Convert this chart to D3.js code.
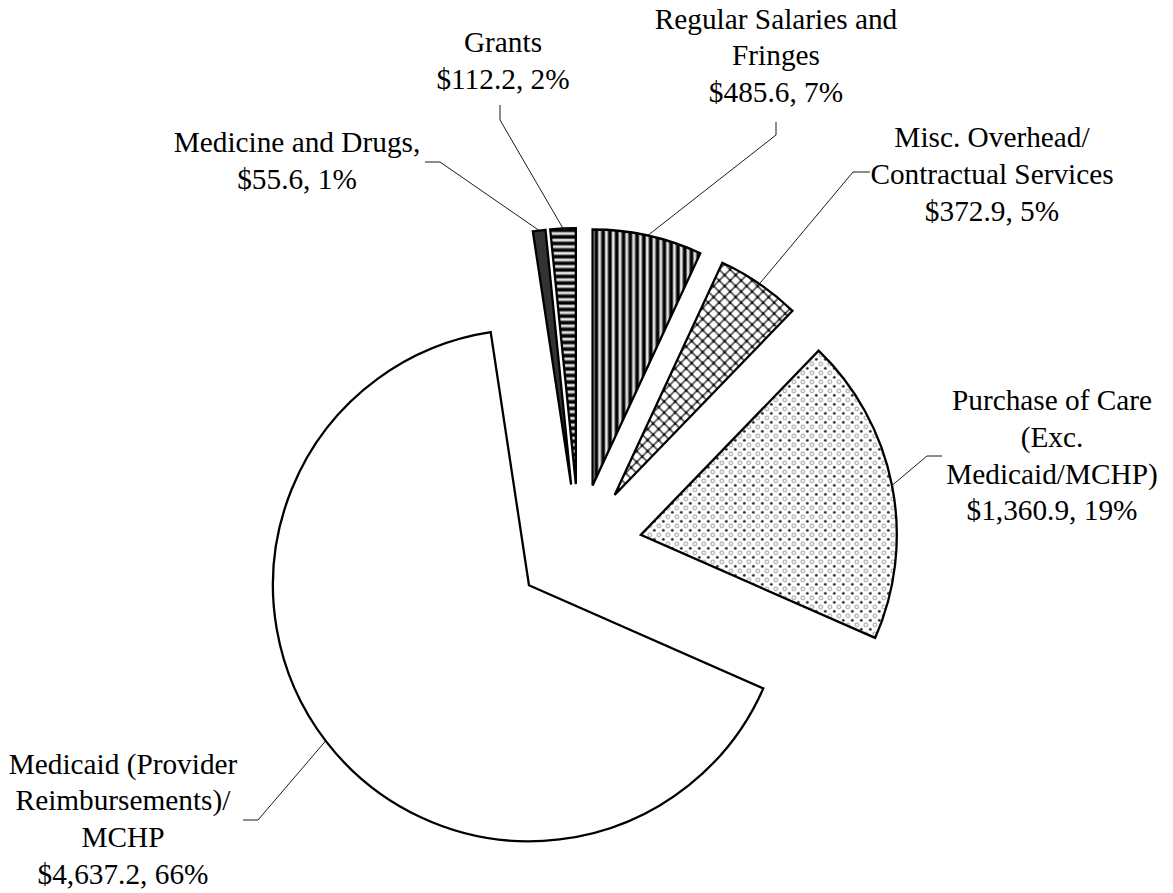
<!DOCTYPE html>
<html>
<head>
<meta charset="utf-8">
<script src="https://cdn.jsdelivr.net/npm/d3@7"></script>
<style>
  html, body { margin: 0; padding: 0; background: #fff; }
  svg { display: block; }
  text { font-family: "Liberation Serif", "Times New Roman", serif; fill: #000; }
</style>
</head>
<body>
<svg id="chart" width="1173" height="893"></svg>
<script>
// ---- data (clockwise from 12 o'clock) ----
const categories = [
  "Regular Salaries and Fringes",
  "Misc. Overhead/Contractual Services",
  "Purchase of Care (Exc. Medicaid/MCHP)",
  "Medicaid (Provider Reimbursements)/MCHP",
  "Medicine and Drugs",
  "Grants"
];
const values = [485.6, 372.9, 1360.9, 4637.2, 55.6, 112.2];
const labelNameLines = [
  ["Regular Salaries and", "Fringes"],
  ["Misc. Overhead/", "Contractual Services"],
  ["Purchase of Care", "(Exc.", "Medicaid/MCHP)"],
  ["Medicaid (Provider", "Reimbursements)/", "MCHP"],
  ["Medicine and Drugs,"],
  ["Grants"]
];
const fills = ["url(#vstripe)", "url(#lattice)", "url(#dots)", "#ffffff", "#333333", "url(#hstripe)"];

// ---- layout ----
const cx = 579, cy = 547, R = 256, explode = 63;
const fontSize = 29.3, lineH = 36.8;
// label anchors: centre x, first baseline, elbow point, tick end
const labelLayout = [
  { x: 776, y: 28.5, elbow: [776, 135], end: [776, 122] },
  { x: 992, y: 147, elbow: [853, 172], end: [870, 172] },
  { x: 1052, y: 410, elbow: [927, 456], end: [942, 456] },
  { x: 123, y: 773.5, elbow: [258, 820], end: [243, 820] },
  { x: 297, y: 152, elbow: [440, 162], end: [425, 162] },
  { x: 503, y: 52, elbow: [500, 120], end: [500, 105] }
];

const svg = d3.select("#chart");
const defs = svg.append("defs");

const stripeStops = [[0, "#fff"], [0.12, "#ddd"], [0.3, "#555"], [0.42, "#000"], [0.68, "#000"], [0.82, "#666"], [0.94, "#ddd"], [1, "#fff"]];

// vertical stripes
const vg = defs.append("linearGradient").attr("id", "vgrad").attr("x1", "0").attr("x2", "1").attr("y1", "0").attr("y2", "0");
stripeStops.forEach(s => vg.append("stop").attr("offset", s[0]).attr("stop-color", s[1]));
const vp = defs.append("pattern").attr("id", "vstripe").attr("patternUnits", "userSpaceOnUse")
  .attr("width", 6.8).attr("height", 10);
vp.append("rect").attr("width", 6.8).attr("height", 10).attr("fill", "url(#vgrad)");

// horizontal stripes
const hg = defs.append("linearGradient").attr("id", "hgrad").attr("x1", "0").attr("x2", "0").attr("y1", "0").attr("y2", "1");
stripeStops.forEach(s => hg.append("stop").attr("offset", s[0]).attr("stop-color", s[1]));
const hp = defs.append("pattern").attr("id", "hstripe").attr("patternUnits", "userSpaceOnUse")
  .attr("width", 10).attr("height", 6.6);
hp.append("rect").attr("width", 10).attr("height", 6.6).attr("fill", "url(#hgrad)");

// lattice (diagonal cross hatch)
const lp = defs.append("pattern").attr("id", "lattice").attr("patternUnits", "userSpaceOnUse")
  .attr("width", 11).attr("height", 11);
lp.append("rect").attr("width", 11).attr("height", 11).attr("fill", "#fff");
lp.append("path").attr("d", "M0,0 L11,11 M11,0 L0,11 M-5.5,5.5 L5.5,16.5 M5.5,-5.5 L16.5,5.5 M5.5,-5.5 L-5.5,5.5 M16.5,5.5 L5.5,16.5")
  .attr("stroke", "#555").attr("stroke-width", 1.7).attr("fill", "none");
[[5.5, 5.5], [0, 0], [11, 0], [0, 11], [11, 11]].forEach(p =>
  lp.append("circle").attr("cx", p[0]).attr("cy", p[1]).attr("r", 1.5).attr("fill", "#111"));

// dots
const dp = defs.append("pattern").attr("id", "dots").attr("patternUnits", "userSpaceOnUse")
  .attr("width", 9).attr("height", 9);
dp.append("rect").attr("width", 9).attr("height", 9).attr("fill", "#fff");
dp.append("circle").attr("cx", 4.5).attr("cy", 4.5).attr("r", 1.35).attr("fill", "#111");
[[0, 0], [9, 0], [0, 9], [9, 9]].forEach(p =>
  dp.append("circle").attr("cx", p[0]).attr("cy", p[1]).attr("r", 1.9)
    .attr("fill", "none").attr("stroke", "#999").attr("stroke-width", 1));

// ---- pie ----
const total = d3.sum(values);
const pie = d3.pie().sort(null).value(d => d)(values);
const arc = d3.arc().innerRadius(0).outerRadius(R);
const fmt = d3.format(",.1f");

function dirOf(d) {
  const a = (d.startAngle + d.endAngle) / 2;
  return [Math.sin(a), -Math.cos(a)];
}

const slices = svg.append("g").selectAll("g.slice").data(pie).join("g")
  .attr("class", "slice")
  .attr("transform", d => {
    const [dx, dy] = dirOf(d);
    return `translate(${cx + dx * explode},${cy + dy * explode})`;
  });
slices.append("path")
  .attr("d", arc)
  .attr("fill", (d, i) => fills[i])
  .attr("stroke", "#000")
  .attr("stroke-width", 2.3)
  .attr("stroke-linejoin", "miter");

// leader lines
svg.append("g").selectAll("path.leader").data(pie).join("path")
  .attr("class", "leader")
  .attr("fill", "none")
  .attr("stroke", "#000")
  .attr("stroke-width", 0.9)
  .attr("d", (d, i) => {
    const [dx, dy] = dirOf(d);
    const ax = cx + dx * (explode + R), ay = cy + dy * (explode + R);
    const L = labelLayout[i];
    return d3.line()([[ax, ay], L.elbow, L.end]);
  });

// labels
const labels = svg.append("g").selectAll("text.lbl").data(pie).join("text")
  .attr("class", "lbl")
  .attr("text-anchor", "middle")
  .attr("font-size", fontSize);
labels.each(function (d, i) {
  const L = labelLayout[i];
  const pct = Math.round(d.data / total * 100);
  const lines = labelNameLines[i].concat([`$${fmt(d.data)}, ${pct}%`]);
  d3.select(this).selectAll("tspan").data(lines).join("tspan")
    .attr("x", L.x)
    .attr("y", (t, k) => L.y + k * lineH)
    .text(t => t);
});
</script>
</body>
</html>
